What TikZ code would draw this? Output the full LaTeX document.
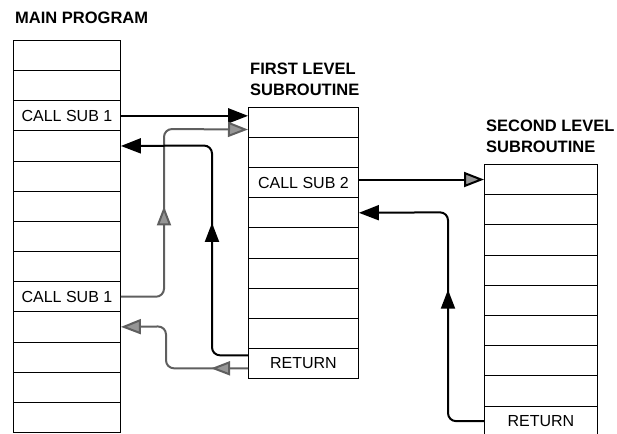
\documentclass[tikz,border=0pt]{standalone}
\usepackage{fontspec}
\setmainfont{Liberation Sans}
\usetikzlibrary{arrows.meta, decorations.markings}
\definecolor{LineGray}{RGB}{95,95,95}
\definecolor{HeadGray}{RGB}{150,150,150}

\begin{document}
\begin{tikzpicture}[
  x=1pt, y=-1pt,
  every node/.style={font=\fontsize{16}{18}\selectfont},
  cell/.style={draw, line width=0.9pt, anchor=north west, minimum height=30.15pt, inner sep=0pt, align=center},
  title/.style={anchor=north west, inner sep=0pt, align=left, font=\fontsize{16.5}{21}\selectfont\bfseries},
  callline/.style={line width=2pt, black},
  grayline/.style={line width=2pt, LineGray},
  blackhead/.style={-{Triangle[length=20pt, width=15pt]}},
  grayhead/.style={-{Triangle[length=20pt, width=15pt, fill=HeadGray]}},
  blackmid/.style={postaction={decorate}, decoration={markings, mark=at position #1 with {\arrow{Triangle[length=19pt, width=14pt]}}}},
  graymid/.style={postaction={decorate}, decoration={markings, mark=at position #1 with {\arrow{Triangle[length=19pt, width=14pt, fill=HeadGray]}}}}
]
\useasboundingbox (0,0) rectangle (617,433);

% Main program column
\node[title] (maintitle) at (15,12) {MAIN PROGRAM};
\foreach \txt [count=\i] in {{},{},CALL SUB 1,{},{},{},{},{},CALL SUB 1,{},{},{},{}}
  \node[cell, minimum width=107pt] (main-\i) at (13, {40+(\i-1)*30.15}) {\txt};

% First level subroutine
\node[title] (firsttitle) at (250,63) {FIRST LEVEL\\SUBROUTINE};
\foreach \txt [count=\i] in {{},{},CALL SUB 2,{},{},{},{},{},RETURN}
  \node[cell, minimum width=110pt] (first-\i) at (248, {107+(\i-1)*30.1}) {\txt};

% Second level subroutine
\node[title] (secondtitle) at (486,120) {SECOND LEVEL\\SUBROUTINE};
\foreach \txt [count=\i] in {{},{},{},{},{},{},{},{},RETURN}
  \node[cell, minimum width=113pt] (second-\i) at (484, {164+(\i-1)*30.2}) {\txt};

% Calls
\draw[callline, blackhead] (main-3.east) -- (main-3.east -| first-1.west);
\draw[grayline, grayhead, rounded corners=8pt, graymid=130pt] (main-9.east) -| (164,129) -- ([yshift=-7pt]first-1.west);
\draw[callline, grayhead] (first-3.east |- second-1.west) -- (second-1.west);

% Returns
\draw[callline, blackhead, rounded corners=8pt, blackmid=165pt] ([yshift=8pt]first-9.west) -| (212,145.5) -- (main-4.east);
\draw[grayline, grayhead, rounded corners=8pt, graymid=37pt] ([yshift=-5pt]first-9.west) -| (166,326.4) -- (main-10.east);
\draw[callline, blackhead, rounded corners=8pt, blackmid=164pt] (second-9.west) -| (448,212.3) -- (first-4.east);

\end{tikzpicture}
\end{document}
